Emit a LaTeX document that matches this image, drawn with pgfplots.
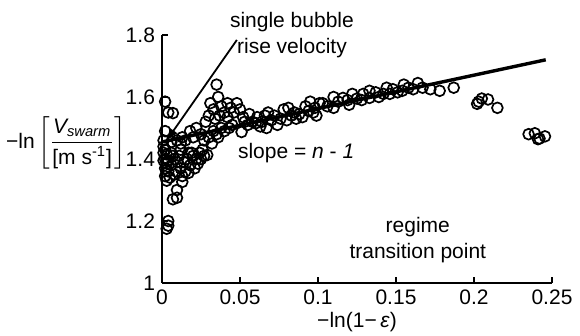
\documentclass[border=0pt]{standalone}
\usepackage{amsmath}
\usepackage{fontspec}
\setmainfont{Liberation Sans}
\usepackage{pgfplots}
\pgfplotsset{compat=1.18}
\usetikzlibrary{arrows.meta}
\newcommand{\fs}{\fontsize{10.5}{13}\selectfont}
\begin{document}
\begin{tikzpicture}
\useasboundingbox (0,0) rectangle (290pt,168pt);
\begin{axis}[
  at={(81pt,26.5pt)}, anchor=south west,
  scale only axis, width=195pt, height=124pt,
  xmin=0, xmax=0.25, ymin=1, ymax=1.8,
  axis lines=left, axis line style={-, line width=0.9pt},
  tick style={black, line width=0.8pt}, major tick length=3pt,
  tick align=inside,
  xtick={0,0.05,0.1,0.15,0.2,0.25},
  xticklabels={0,0.05,0.1,0.15,0.2,0.25},
  ytick={1,1.2,1.4,1.6,1.8},
  yticklabels={1,1.2,1.4,1.6,1.8},
  ticklabel style={font=\fs},
  xlabel={−ln(1−\,\textit{ε})}, xlabel style={font=\fs, yshift=3pt},
  clip=false,
]
\addplot[only marks, mark=o, mark size=2.7pt, mark options={line width=0.85pt}] table {
x y
0.002 1.585
0.004 1.55
0.007 1.548
0.002 1.49
0.001 1.46
0.001 1.44
0.002 1.43
0.001 1.42
0.003 1.415
0.002 1.40
0.001 1.395
0.003 1.385
0.002 1.37
0.004 1.36
0.002 1.345
0.003 1.33
0.004 1.20
0.004 1.185
0.003 1.175
0.005 1.34
0.017 1.355
0.013 1.326
0.0096 1.30
0.007 1.27
0.0096 1.275
0.029 1.413
0.006 1.38
0.008 1.40
0.010 1.39
0.012 1.37
0.014 1.39
0.016 1.40
0.018 1.38
0.020 1.41
0.022 1.40
0.024 1.42
0.026 1.43
0.019 1.42
0.011 1.41
0.009 1.36
0.015 1.36
0.021 1.37
0.008 1.35
0.013 1.345
0.006 1.42
0.004 1.395
0.007 1.41
0.023 1.385
0.027 1.41
0.012 1.43
0.017 1.42
0.025 1.40
0.006 1.455
0.0096 1.46
0.013 1.47
0.018 1.49
0.022 1.50
0.028 1.52
0.033 1.49
0.015 1.46
0.020 1.47
0.025 1.48
0.030 1.47
0.035 1.48
0.038 1.50
0.040 1.49
0.012 1.45
0.027 1.46
0.032 1.45
0.036 1.47
0.043 1.50
0.045 1.51
0.035 1.64
0.036 1.60
0.033 1.56
0.042 1.58
0.048 1.58
0.040 1.55
0.046 1.55
0.052 1.535
0.031 1.58
0.038 1.57
0.044 1.565
0.030 1.54
0.034 1.53
0.050 1.56
0.056 1.545
0.037 1.54
0.051 1.487
0.061 1.535
0.068 1.55
0.067 1.50
0.074 1.51
0.078 1.56
0.083 1.54
0.092 1.57
0.098 1.565
0.101 1.58
0.058 1.52
0.042 1.535
0.055 1.51
0.060 1.515
0.064 1.52
0.070 1.525
0.072 1.54
0.076 1.53
0.080 1.525
0.085 1.55
0.088 1.545
0.090 1.535
0.094 1.555
0.097 1.55
0.053 1.52
0.063 1.505
0.086 1.53
0.081 1.565
0.066 1.54
0.095 1.585
0.099 1.54
0.103 1.58
0.110 1.565
0.110 1.60
0.116 1.597
0.122 1.61
0.129 1.61
0.133 1.62
0.133 1.597
0.144 1.63
0.142 1.61
0.155 1.64
0.154 1.62
0.164 1.645
0.167 1.63
0.106 1.57
0.113 1.585
0.119 1.59
0.125 1.595
0.137 1.615
0.148 1.625
0.151 1.615
0.158 1.63
0.161 1.625
0.120 1.575
0.128 1.59
0.139 1.60
0.146 1.61
0.172 1.625
0.178 1.62
0.187 1.63
0.202 1.578
0.205 1.595
0.209 1.592
0.215 1.565
0.203 1.585
0.235 1.48
0.239 1.483
0.242 1.466
0.2455 1.473
0.241 1.464
};
\addplot[black, line width=1.7pt] coordinates {(0,1.455) (0.246,1.72)};
\draw[-{Latex[length=6pt,width=5pt]}, line width=0.9pt] (axis cs:0.048,1.784) -- (axis cs:0.003,1.46);
\node[font=\fs, align=center] at (axis cs:0.0833,1.80) {single bubble\\rise velocity};
\node[font=\fs] at (axis cs:0.086,1.419) {slope = \textit{n} - \textit{1}};
\node[font=\fs, align=center] at (axis cs:0.164,1.139) {regime\\transition point};
\node[font=\fs, inner sep=0pt] at (axis cs:-0.0615,1.452) {$\text{−ln}\left[\dfrac{\text{\itshape V}_{\text{\itshape swarm}}}{\text{[m s\textsuperscript{-1}]}}\right]$};
\end{axis}
\end{tikzpicture}
\end{document}
